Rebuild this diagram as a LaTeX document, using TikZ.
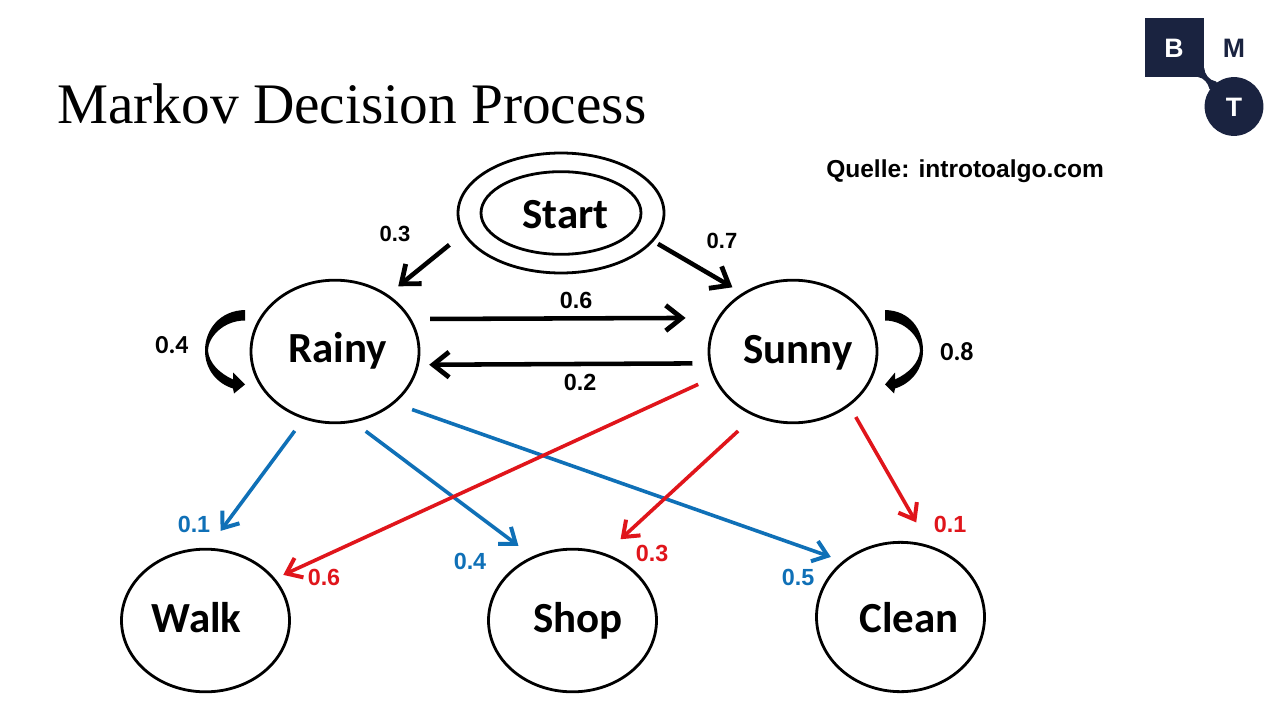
\documentclass[tikz,border=0pt]{standalone}
\usepackage{fontspec}
\setmainfont{Liberation Sans}
\newfontfamily\carlito{Carlito}
\newfontfamily\titlefont{Liberation Serif}
\usetikzlibrary{shapes.geometric,arrows.meta}
\definecolor{bmt}{HTML}{1A2340}
\definecolor{edgeblue}{HTML}{0F70B7}
\definecolor{edgered}{HTML}{E0151B}
\tikzset{
  x=0.75pt,y=-0.75pt,
  state/.style={ellipse,draw=black,line width=2.1pt,inner sep=0pt,minimum width=126pt,minimum height=107pt},
  statetext/.style={font=\carlito\bfseries\fontsize{32.2}{36}\selectfont,inner sep=0pt},
  blackedge/.style={draw=black,line width=3.4pt,-{Straight Barb[length=12pt,width=19pt,line width=3.6pt]}},
  blueedge/.style={draw=edgeblue,line width=2.7pt,-{Straight Barb[length=10.5pt,width=16pt,line width=3pt]}},
  rededge/.style={draw=edgered,line width=2.7pt,-{Straight Barb[length=10.5pt,width=16pt,line width=3pt]}},
  edgelabel/.style={font=\bfseries\fontsize{17.5}{20}\selectfont,inner sep=0pt},
  startlabel/.style={font=\bfseries\fontsize{16.5}{20}\selectfont,inner sep=0pt},
  looplabel/.style={font=\carlito\bfseries\fontsize{19.5}{22}\selectfont,inner sep=0pt},
  logotext/.style={font=\bfseries\fontsize{20}{24}\selectfont,inner sep=0pt},
  loopshape/.style={fill=black,draw=none},
}
\begin{document}
\begin{tikzpicture}
\useasboundingbox (0,0) rectangle (1280,720);
\fill[white] (0,0) rectangle (1280,720);

% title and source
\node[font=\titlefont\fontsize{43}{50}\selectfont,anchor=west,inner sep=0pt] (title) at (57,104) {Markov Decision Process};
\node[font=\bfseries\fontsize{18.4}{22}\selectfont,anchor=west,inner sep=0pt] (source) at (826,171) {Quelle: introtoalgo.com};

% logo
\fill[bmt] (1145,18) rectangle (1204,77);
\fill[bmt] (1234,106.5) circle (29.4);
\fill[bmt] (1204.2,68) .. controls (1204.5,74) and (1209,80.5) .. (1216,81.5) -- (1225,95) -- (1209.5,89) .. controls (1208,83) and (1204,78) .. (1198,77) -- (1198,70) -- cycle;
\node[logotext,text=white] (logoB) at (1174,48) {B};
\node[logotext,text=bmt] (logoM) at (1234,48) {M};
\node[logotext,text=white] (logoT) at (1234,107) {T};

% states
\node[ellipse,draw=black,line width=2.1pt,minimum width=154.5pt,minimum height=90pt,inner sep=0pt] (Start) at (561,213) {};
\node[ellipse,draw=black,line width=2.1pt,minimum width=120pt,minimum height=62pt,inner sep=0pt] (StartInner) at (561,213) {};
\node[statetext] (StartText) at (565.5,214.5) {Start};
\node[state] (Rainy) at (335,351.5) {};
\node[state] (Sunny) at (793,351.5) {};
\node[state] (Walk) at (205.5,620.5) {};
\node[state] (Shop) at (572.5,620.5) {};
\node[state,minimum height=112pt] (Clean) at (900.5,617) {};
\node[statetext] (RainyText) at (337.5,351) {Rainy};
\node[statetext] (SunnyText) at (798,353) {Sunny};
\node[statetext] (WalkText) at (196.5,618) {Walk};
\node[statetext] (ShopText) at (578,621) {Shop};
\node[statetext] (CleanText) at (909,618) {Clean};

% transitions
\draw[blackedge,shorten <=13pt,shorten >=9.8pt] (Start.192.4) -- (Rainy.47);
\draw[blackedge,shorten <=3.8pt,shorten >=8.5pt] (Start.343.4) -- (Sunny.131.3);
\draw[blackedge,shorten <=14pt,shorten >=23.8pt] (Rainy.23.7) -- (Sunny.156.3);
\draw[blackedge,shorten <=12.2pt,shorten >=7.7pt] (Sunny.188.6) -- (Rainy.351.4);

\draw[blueedge,shorten <=11pt,shorten >=15.8pt] (Rainy.245.6) -- (Walk.88.4);
\draw[blueedge,shorten <=11pt,shorten >=13.1pt] (Rainy.285.6) -- (Shop.122.9);
\draw[blueedge,shorten <=13.8pt,shorten >=9.4pt] (Rainy.319.9) -- (Clean.136.5);

\draw[rededge,shorten <=12.4pt,shorten >=6.6pt] (Sunny.198.9) -- (Walk.31.5);
\draw[rededge,shorten <=16.3pt,shorten >=15.6pt] (Sunny.239.2) -- (Shop.64.8);
\draw[rededge,shorten <=9.5pt,shorten >=19.9pt] (Sunny.316.3) -- (Clean.68.8);

% self loops
\begin{scope}[shift={(Rainy.center)}]
\fill[loopshape] (-90,-41.5) .. controls (-115,-41) and (-130,-22) .. (-130,-1) .. controls (-130,18) and (-118,32) .. (-102,37) -- (-101,42) -- (-90,33) -- (-102,21) -- (-102,28) .. controls (-115,22) and (-126,12) .. (-127,-1) .. controls (-127,-14) and (-112,-31) .. (-90,-31) -- cycle;
\end{scope}
\begin{scope}[shift={(Sunny.center)},xscale=-1]
\fill[loopshape] (-92,-41.5) .. controls (-117,-41) and (-130,-22) .. (-130,-1) .. controls (-130,18) and (-118,32) .. (-102,37) -- (-101,42) -- (-92,33) -- (-102,21) -- (-102,28) .. controls (-115,22) and (-126,12) .. (-127,-1) .. controls (-127,-14) and (-112,-31) .. (-92,-31) -- cycle;
\end{scope}

% edge labels
\node[startlabel] (l1) at (395,234) {0.3};
\node[startlabel] (l2) at (722,241) {0.7};
\node[edgelabel] (l3) at (576,300) {0.6};
\node[edgelabel] (l4) at (580,382) {0.2};
\node[looplabel] (l5) at (172,345) {0.4};
\node[looplabel] (l6) at (957,352) {0.8};
\node[edgelabel,text=edgeblue] (l7) at (194,524) {0.1};
\node[edgelabel,text=edgeblue] (l8) at (470,561) {0.4};
\node[edgelabel,text=edgeblue] (l9) at (798,577) {0.5};
\node[edgelabel,text=edgered] (l10) at (324,577) {0.6};
\node[edgelabel,text=edgered] (l11) at (652,553) {0.3};
\node[edgelabel,text=edgered] (l12) at (950,524) {0.1};
\end{tikzpicture}
\end{document}
